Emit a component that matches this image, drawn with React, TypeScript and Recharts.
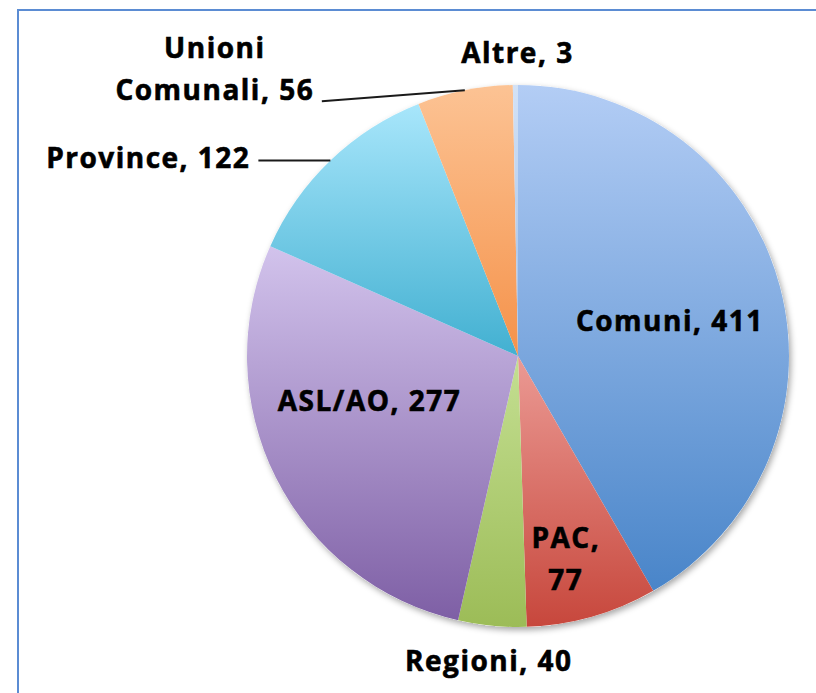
import { PieChart, Pie, Cell } from 'recharts'

const categories = ['Comuni', 'PAC', 'Regioni', 'ASL/AO', 'Province', 'Unioni Comunali', 'Altre']
const values = [411, 77, 40, 277, 122, 56, 3]
const labelLines = [
  ['Comuni, 411'],
  ['PAC,', '77'],
  ['Regioni, 40'],
  ['ASL/AO, 277'],
  ['Province, 122'],
  ['Unioni', 'Comunali, 56'],
  ['Altre, 3'],
]
const gradTop = ['#b3cdf5', '#eb9a94', '#c4df92', '#d2c3ec', '#a8e6fb', '#fcc394', '#d3e2f6']
const gradBottom = ['#4985c9', '#c7473c', '#9cbc57', '#7e5fa5', '#42b0d1', '#f5924a', '#9fbde6']

const chartData = categories.map((name, i) => ({ name, value: values[i] }))

const FONT = '"Open Sans", "DejaVu Sans", sans-serif'
const FONT_SIZE = 28
const LINE_GAP = 42
const RAD = Math.PI / 180

// inside labels: radius factor + nudge; outside labels get a leader line
const placement = [
  { f: 0.58, dx: 0, dy: 6 },
  { f: 0.78, dx: -10, dy: 0 },
  { f: 1.13, dx: 0, dy: 0 },
  { f: 0.58, dx: -8, dy: -26 },
  { f: 1, dx: 0, dy: 0, lineTo: [-72, 0], textAt: [-80, -2], anchor: 'end' },
  { f: 1, dx: 0, dy: 0, lineTo: [-143, 11], textAt: [-250, -21], anchor: 'middle' },
  { f: 1, dx: 0, dy: 0, textAt: [2, -32], anchor: 'middle' },
]

function renderLabel(props: any) {
  const { cx, cy, midAngle, outerRadius, index } = props
  const p = placement[index]
  const cos = Math.cos(-midAngle * RAD)
  const sin = Math.sin(-midAngle * RAD)
  const px = cx + outerRadius * p.f * cos
  const py = cy + outerRadius * p.f * sin
  const lines = labelLines[index]
  const capShift = FONT_SIZE * 0.357
  let tx = px + p.dx
  let ty = py + p.dy
  if (p.textAt) {
    tx = px + p.textAt[0]
    ty = py + p.textAt[1]
  }
  const firstCenter = ty - ((lines.length - 1) * LINE_GAP) / 2
  return (
    <g key={`lbl-${index}`}>
      {p.lineTo && (
        <line
          x1={px}
          y1={py}
          x2={px + p.lineTo[0]}
          y2={py + p.lineTo[1]}
          stroke="#1a1a1a"
          strokeWidth={2}
        />
      )}
      {lines.map((t, j) => (
        <text
          key={j}
          x={tx}
          y={firstCenter + j * LINE_GAP + capShift}
          textAnchor={p.anchor || 'middle'}
          fontFamily={FONT}
          fontWeight={700}
          fontSize={FONT_SIZE}
          letterSpacing={1.5}
          fill="#000"
          stroke="#000"
          strokeWidth={0.6}
        >
          {t}
        </text>
      ))}
    </g>
  )
}

export default function App() {
  return (
    <div style={{ position: 'fixed', left: 0, top: 0, width: 816, height: 693, background: '#fff', overflow: 'hidden' }}>
      <div
        style={{
          position: 'absolute',
          left: 17,
          top: 9,
          width: 900,
          height: 800,
          borderLeft: '2px solid #5b8cd3',
          borderTop: '2px solid #5b8cd3',
        }}
      />
      <div style={{ position: 'absolute', left: 0, top: 0 }}>
        <PieChart width={816} height={693} margin={{ top: 0, right: 0, bottom: 0, left: 0 }}>
          <defs>
            {gradTop.map((c, i) => (
              <linearGradient key={i} id={`slice-${i}`} x1="0" y1="0" x2="0" y2="1">
                <stop offset="0%" stopColor={c} />
                <stop offset="100%" stopColor={gradBottom[i]} />
              </linearGradient>
            ))}
            <filter id="pieShadow" x="-10%" y="-10%" width="120%" height="120%">
              <feDropShadow dx="2" dy="3" stdDeviation="3" floodColor="#000" floodOpacity="0.35" />
            </filter>
          </defs>
          <Pie
            data={[{ name: 'bg', value: 1 }]}
            dataKey="value"
            cx={518}
            cy={356}
            outerRadius={271}
            startAngle={90}
            endAngle={-270}
            stroke="none"
            isAnimationActive={false}
          >
            <Cell fill="#ffffff" filter="url(#pieShadow)" />
          </Pie>
          <Pie
            data={chartData}
            dataKey="value"
            nameKey="name"
            cx={518}
            cy={356}
            outerRadius={271}
            startAngle={90}
            endAngle={-270}
            stroke="none"
            label={renderLabel}
            labelLine={false}
            isAnimationActive={false}
          >
            {chartData.map((d, i) => (
              <Cell key={d.name} fill={`url(#slice-${i})`} />
            ))}
          </Pie>
        </PieChart>
      </div>
    </div>
  )
}
